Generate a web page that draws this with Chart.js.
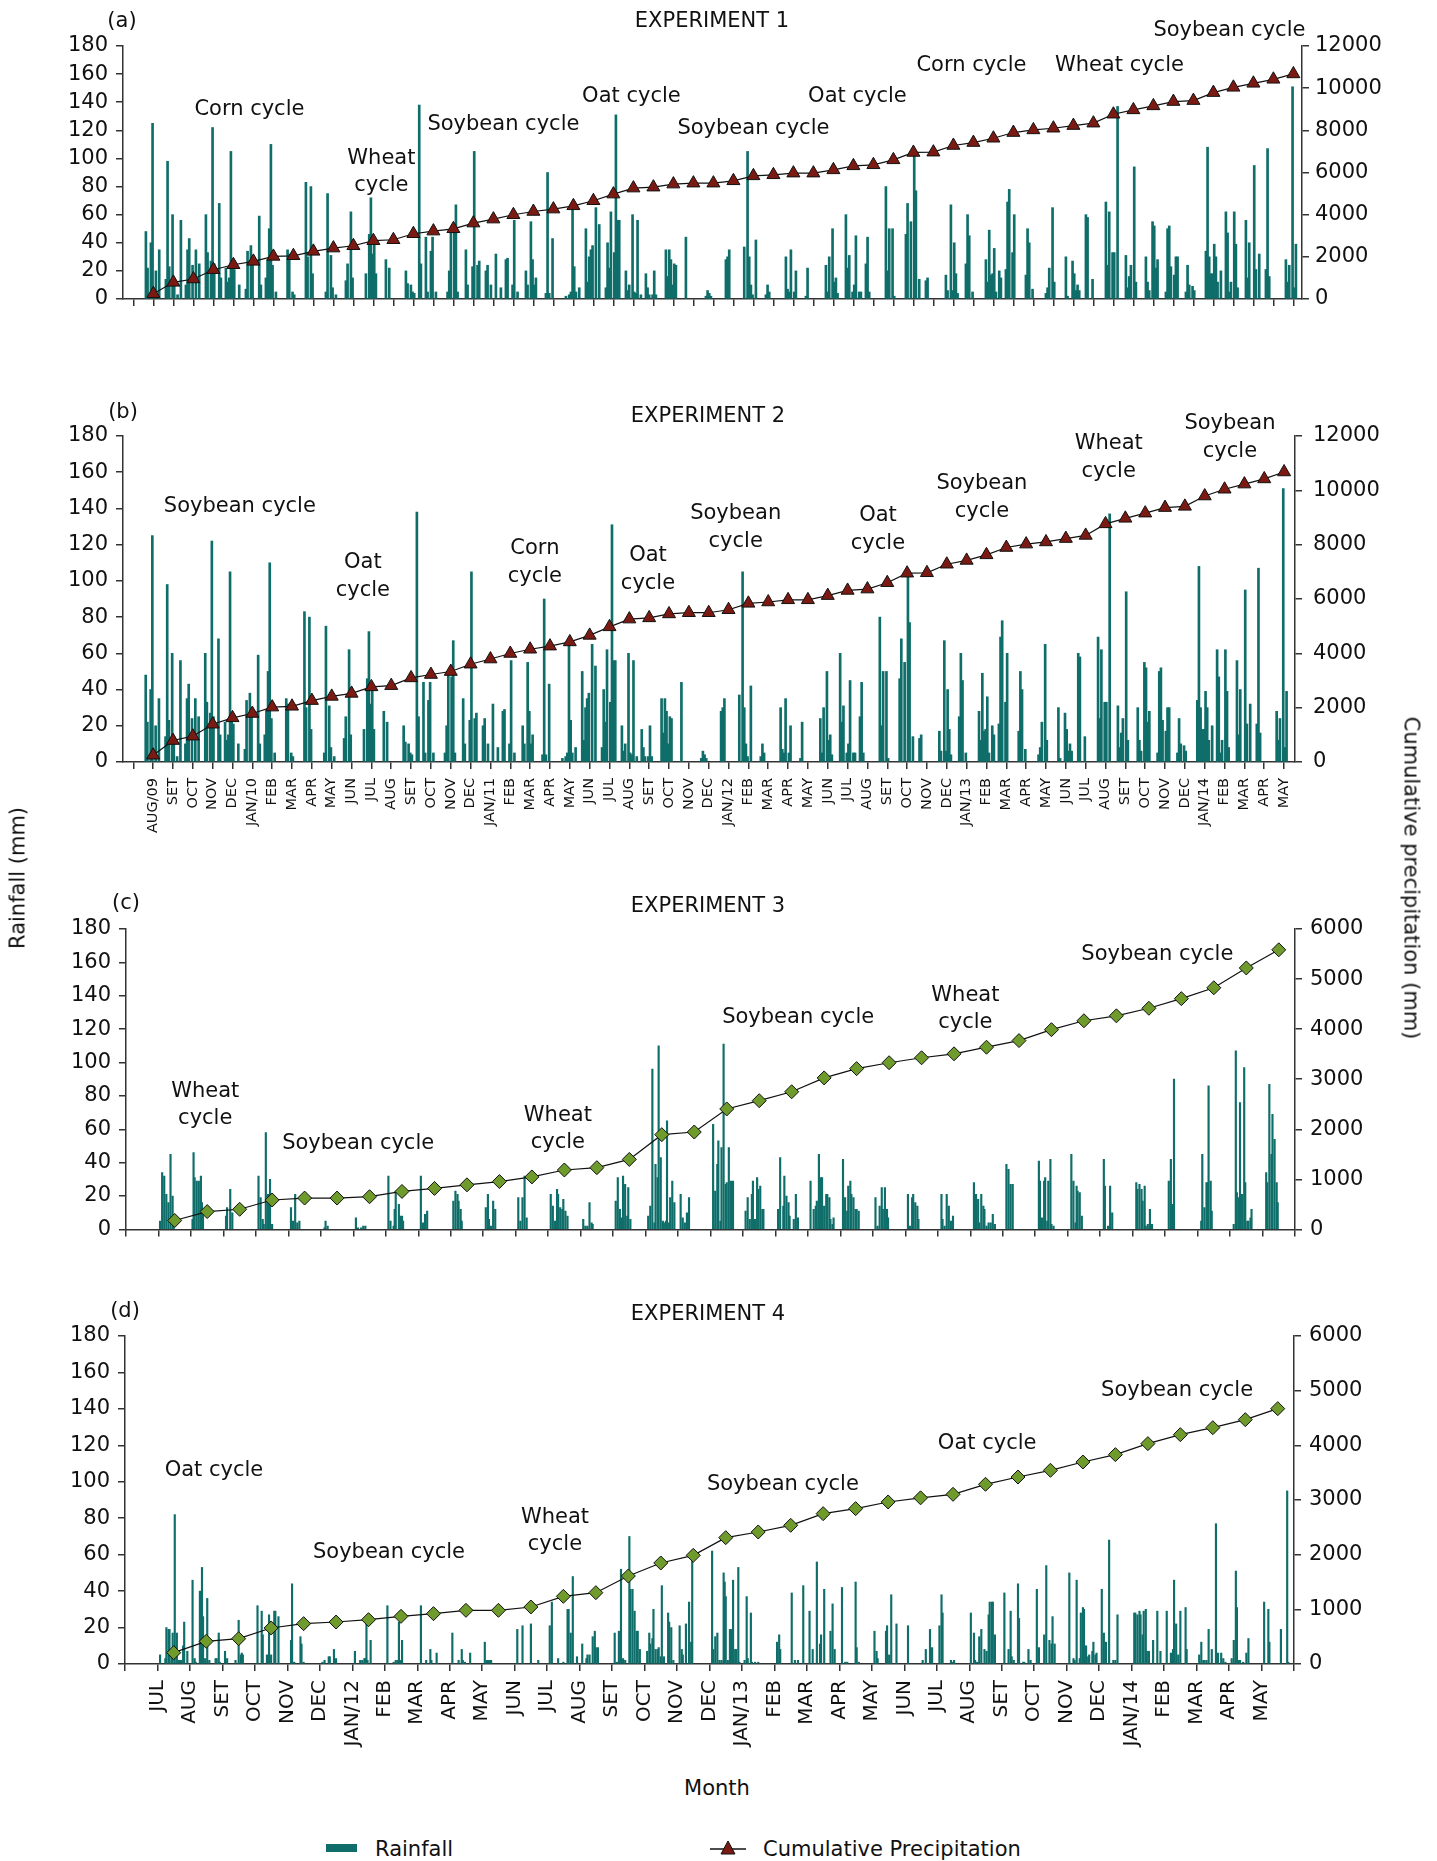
<!DOCTYPE html>
<html>
<head>
<meta charset="utf-8">
<script src="https://cdn.jsdelivr.net/npm/chart.js@4.4.0/dist/chart.umd.min.js"></script>
<style>
  body { margin: 0; background: #fff; }
  #page { position: relative; width: 1437px; height: 1861px; background: #fff; font-family: "DejaVu Sans", sans-serif; color: #111; overflow: hidden; }
  canvas { position: absolute; left: 0; }
  .t { position: absolute; white-space: nowrap; font-size: 21px; line-height: 1; transform: translate(-50%, -50%); }
</style>
</head>
<body>
<div id="page">
  <canvas id="chA" width="1437" height="320" style="top:0px"></canvas>
  <canvas id="chB" width="1437" height="460" style="top:400px"></canvas>
  <canvas id="chC" width="1437" height="370" style="top:880px"></canvas>
  <canvas id="chD" width="1437" height="480" style="top:1290px"></canvas>

  <div class="t" style="left:122px; top:20px">(a)</div>
  <div class="t" style="left:712px; top:20px">EXPERIMENT 1</div>
  <div class="t" style="left:123px; top:411px">(b)</div>
  <div class="t" style="left:708px; top:415px">EXPERIMENT 2</div>
  <div class="t" style="left:126px; top:902px">(c)</div>
  <div class="t" style="left:708px; top:905px">EXPERIMENT 3</div>
  <div class="t" style="left:125px; top:1310px">(d)</div>
  <div class="t" style="left:708px; top:1313px">EXPERIMENT 4</div>

  <div class="t" style="left:18px; top:878px; transform:translate(-50%,-50%) rotate(-90deg)">Rainfall (mm)</div>
  <div class="t" style="left:1411px; top:878px; transform:translate(-50%,-50%) rotate(90deg)">Cumulative precipitation (mm)</div>
  <div class="t" style="left:717px; top:1788px">Month</div>

  <div style="position:absolute; left:326px; top:1844px; width:31px; height:8px; background:#0f6e69"></div>
  <div class="t" style="left:375px; top:1849px; transform:translate(0,-50%)">Rainfall</div>
  <svg style="position:absolute; left:710px; top:1838px" width="36" height="20">
    <line x1="0" y1="11" x2="36" y2="11" stroke="#111" stroke-width="1.5"/>
    <polygon points="18,3 25,16 11,16" fill="#7b1a12" stroke="#111" stroke-width="1"/>
  </svg>
  <div class="t" style="left:763px; top:1849px; transform:translate(0,-50%)">Cumulative Precipitation</div>
</div>

<script>
// ---- data: experiments 1 and 2 (Aug/2009 - May/2014) ----
const monthsAB = ['AUG/09','SET','OCT','NOV','DEC','JAN/10','FEB','MAR','APR','MAY','JUN','JUL','AUG','SET','OCT','NOV','DEC',
  'JAN/11','FEB','MAR','APR','MAY','JUN','JUL','AUG','SET','OCT','NOV','DEC',
  'JAN/12','FEB','MAR','APR','MAY','JUN','JUL','AUG','SET','OCT','NOV','DEC',
  'JAN/13','FEB','MAR','APR','MAY','JUN','JUL','AUG','SET','OCT','NOV','DEC',
  'JAN/14','FEB','MAR','APR','MAY'];

// daily rainfall (mm), 12 slots per month
const rainAB = [
  [0,48,22,0,40,125,0,20,0,35,0,0],
  [0,14,98,23,0,60,14,0,3,0,56,0],
  [0,10,35,43,0,24,0,35,0,25,0,0],
  [0,60,33,0,27,122,25,0,0,68,15,0],
  [0,22,12,15,105,26,21,0,0,10,0,0],
  [0,7,34,0,38,27,0,0,0,59,10,0],
  [0,15,28,50,110,24,0,5,0,0,0,0],
  [0,0,35,32,0,5,3,0,0,0,0,0],
  [0,83,30,0,80,18,0,0,0,0,0,0],
  [0,5,75,0,31,8,0,3,0,0,0,0],
  [0,13,25,0,62,15,0,0,0,0,0,0],
  [0,18,0,46,72,32,40,18,0,0,0,0],
  [0,28,0,22,0,0,0,0,0,0,0,0],
  [0,20,11,0,10,5,4,0,0,138,25,0],
  [0,44,5,0,34,44,0,5,0,0,0,0],
  [0,0,5,20,48,0,47,67,5,0,0,0],
  [0,35,10,0,0,23,105,0,24,27,0,0],
  [0,20,24,0,10,0,0,32,0,0,8,0],
  [0,28,29,0,0,10,56,0,5,0,0,0],
  [0,20,10,0,55,28,10,15,0,0,0,0],
  [0,4,90,4,0,43,0,0,0,0,0,0],
  [0,2,0,3,5,65,23,5,0,8,0,0],
  [0,50,12,30,35,38,0,65,0,53,0,0],
  [0,8,40,22,62,0,33,131,56,56,0,0],
  [0,20,6,10,0,60,5,4,56,0,3,0],
  [0,18,8,3,0,3,20,3,0,0,0,0],
  [0,35,16,35,28,10,25,24,0,0,0,0],
  [0,44,0,0,0,0,0,0,0,0,0,0],
  [0,2,6,4,2,0,0,0,0,0,0,0],
  [0,28,30,35,0,0,0,0,0,0,0,0],
  [37,0,105,30,10,3,0,42,0,0,0,0],
  [0,3,10,5,0,0,0,0,0,0,0,0],
  [0,30,7,5,35,0,5,20,0,0,0,0],
  [0,2,22,0,0,0,0,0,0,0,0,0],
  [0,24,5,30,0,50,12,15,4,0,0,0],
  [0,60,22,31,0,5,10,45,0,5,5,0],
  [0,25,44,5,0,0,0,0,0,0,0,0],
  [0,80,20,50,0,50,2,0,0,0,0,0],
  [0,46,68,0,55,0,106,77,0,14,0,0],
  [0,13,15,0,0,0,0,0,0,0,0,0],
  [0,17,6,0,67,6,40,18,4,0,0,0],
  [0,25,60,45,0,5,0,0,0,0,0,0],
  [0,28,12,49,17,18,36,5,0,20,15,0],
  [0,21,69,78,0,33,60,0,0,0,0,0],
  [0,17,50,40,0,7,0,0,0,0,0,0],
  [0,4,8,22,0,65,12,0,0,0,0,0],
  [0,30,2,0,0,27,18,6,10,6,0,0],
  [0,60,58,0,0,14,0,0,0,0,0,0],
  [0,69,24,62,0,33,33,0,137,0,0,0],
  [0,31,8,16,24,0,94,12,0,0,0,0],
  [0,30,12,6,0,55,52,22,28,0,0,0],
  [0,5,50,52,23,0,17,30,30,0,0,0],
  [0,5,24,10,0,9,6,0,0,0,0,0],
  [0,34,108,30,18,18,39,30,12,0,20,0],
  [0,62,47,5,12,0,62,39,8,0,0,0],
  [0,56,15,40,0,0,95,21,0,32,0,0],
  [0,21,107,16,0,0,0,0,0,0,0,0],
  [0,28,12,24,0,151,8,39,0,0,0,0]
];

const cumAB = [250,790,950,1390,1625,1785,2020,2050,2260,2415,2525,2765,2810,3095,3220,3330,3600,3790,3995,4150,
  4265,4420,4660,4975,5260,5305,5450,5495,5495,5605,5840,5890,5970,5970,6125,6315,6365,6600,6950,6965,
  7280,7420,7625,7895,8020,8100,8225,8340,8765,8970,9160,9365,9410,9790,10040,10230,10420,10675];

// ---- data: experiments 3 and 4 (Jul/2011 - May/2014) ----
const monthsCD = ['JUL','AUG','SET','OCT','NOV','DEC','JAN/12','FEB','MAR','APR','MAY','JUN',
  'JUL','AUG','SET','OCT','NOV','DEC','JAN/13','FEB','MAR','APR','MAY','JUN',
  'JUL','AUG','SET','OCT','NOV','DEC','JAN/14','FEB','MAR','APR','MAY'];

// daily rainfall (mm), day 1.. of each month
const rainC = [
  [0,5,0,34,0,32,0,21,0,16,0,45,0,20,4],
  [0,6,46,31,0,29,0,29,0,32,16,12],
  [0,0,8,13,0,0,24,0,10],
  [0,0,32,0,19,0,6,3,0,58,0,21,0,30,0,3],
  [0,0,13,0,5,0,21,0,4,0,5],
  [0,0,0,1,5,0,2],
  [0,0,7,0,1,0,0,1,0,2,0,2],
  [0,0,32,0,5,0,0,2,12,23,0,0,15,8,0,8,5],
  [0,0,32,0,4,0,9,0,11],
  [0,0,17,0,23,0,21,17,0,12,5],
  [0,0,13,0,21,6,0,2,0,17,0,12],
  [0,0,19,0,5,0,19,0,32,0,7],
  [0,0,21,0,14,0,5,0,24,21,0,13,0,12,18,0,11,0,8],
  [0,0,6,0,2,0,2,0,16,0,4,3],
  [0,0,17,0,31,0,12,7,0,32,0,27,0,8,25,0,6],
  [0,0,8,0,14,0,96,0,4,39,0,31,110,0,43,0,5,4,0,5,65,0,4,19,0,29,0,16],
  [0,0,21,0,7,0,4,0,10,0,19],
  [0,0,63,0,23,0,39,53,0,5,49,0,111,0,27,28,0,49,0,29,0,29],
  [0,0,11,0,19,0,6,0,21,29,0,6,0,31,24,0,26,0,12,12],
  [0,0,12,0,43,0,0,14,32,0,20,0,16,8,0,0,0,6,0,21,0,7],
  [0,0,29,0,0,12,0,14,17,0,45,0,31,31,0,14,0,21,21,0,19,6,0,3,7],
  [0,0,42,0,19,0,11,26,0,29,21,0,19,0,12,12,0,11],
  [0,0,19,0,2,0,14,0,25,12,0,25,0,12,7],
  [0,0,21,0,2,0,19,21,0,16,0,14,6],
  [0,0,0,21,6,0,2,0,21,0,14,0,5,0,8],
  [0,0,0,28,0,21,0,18,4,0,21,0,14,12,0,2,0,4,0,4,0,9,0,3],
  [0,0,0,39,0,36,0,27,0,27],
  [0,0,0,41,29,0,7,0,29,31,0,5,29,0,42,3,0,2],
  [0,0,0,45,0,29,0,4,26,23,0,22,0,8],
  [0,0,0,42,26,0,0,2,0,26,0,10],
  [0,0,0,28,24,0,27,0,24,17,0,26,2,0,3,0,12,0,3],
  [0,0,0,29,0,42,15,0,90],
  [0,0,0,5,45,0,13,0,28,28,86,0,29,11],
  [0,0,0,3,0,107,22,0,19,76,0,21,0,97,28,0,5,5,0,7,12],
  [0,0,0,34,28,0,87,0,45,69,0,54,0,28,16]
];
const cumC = [178,356,402,587,626,626,653,758,818,890,956,1048,1187,1233,1398,1892,1945,2406,2571,2749,
  3026,3211,3329,3428,3507,3639,3771,3989,4167,4266,4417,4609,4826,5222,5584];

const rainD = [
  [0,0,5,0,0,0,0,3,20,0,19,19,0,6,17,0,82,0,17,0,2,0,2,0,10,23,0,0,7],
  [0,0,46,0,3,1,0,0,0,40,0,53,26,0,3,0,36,0,2,0,0,0,0,0,3,3,0,17,1],
  [0,0,7,0,3,0,0,0,0,0,0,0,2,0,0,24,0,5,6,5],
  [0,0,32,0,0,0,29,16,0,0,0,5,0,27,0,5,0,0,29,29,0,0,26],
  [0,0,0,13,44,0,1,0,0,0,0,0,15,11,0,1],
  [0,0,1,0,2,0,0,0,4,4,0,0,0,8,0,3],
  [0,0,7,0,0,0,0,2,0,2,0,3,3,22,2,0,0,13],
  [0,0,32,0,0,0,0,0,1,0,2,0,2,23,0,2,13],
  [0,0,0,32,0,0,0,0,2,0,0,0,8,2,0,0,0,0,6],
  [0,0,17,0,0,0,0,0,2,0,0,8,2,0,1,0,0,0,0,6],
  [0,0,12,0,2,0,2,0,2],
  [0,0,19,0,0,0,0,21,0,0,0,0,0,0,0,22,0,0,0,0,0,0,2],
  [0,0,21,0,34,0,0,0,0,0,3,0,0,0,0,1,0,0,0,30,30,0,17,0,48,0,0,0,4],
  [0,0,11,0,0,0,3,5,0,5,0,0,15,0,18,9,0,9],
  [0,0,17,0,1,0,18,0,52,0,3,0,2,0,0,0,70,41,0,41,0,29,0,18,18,0,8],
  [0,0,7,0,17,11,0,14,30,0,8,0,8,9,0,4,43,0,4,0,0,0,28,23,0,20,0,2],
  [0,0,21,0,8,5,0,0,22,0,0,34,0,12,60],
  [0,0,62,8,0,15,0,17,0,2,0,2,0,50,45,37,0,2,0,19,0,19,46,0,8,8,0,53,1],
  [0,0,2,0,37,3,0,0,28,1,0,0,1,0,0,1],
  [0,0,12,0,16,8,0,0,0,0,0,0,0,0,0,0,39,0,0,2,0,0,2,0,0,0,0,43],
  [0,0,29,0,0,8,0,0,0,56,0,0,11,16,0,0,41,0,0,0,0,0,18,0,33,0,8],
  [0,0,42,0,0,1,0,1,0,0,0,0,0,0,0,45,9,0,1],
  [0,0,18,0,7,3,0,0,0,0,0,0,0,18,21,0,5,0,38,0,0,0,0,22],
  [0,0,0,21,0,0,0,0,0,0,0,0,0,0,0,0,0,2,0,0,8,0,0,0,19,0,9],
  [0,0,21,0,38,28,0,0,0,0,0,0,0,2,0,1,2],
  [0,28,0,0,17,2,0,1,0,15,0,19,0,0,8,0,7,0,27,34,0,34,34,0,16],
  [0,0,39,0,0,0,8,0,29,4,0,2,0,0,0,44,25,0,0,0,1,1,0,0,0,8,0,2],
  [0,0,41,0,9,0,0,0,0,16,0,54,0,0,13,0,11,26,0,11],
  [0,0,50,0,0,0,3,2,0,46,0,0,3,28,0,31,30,0,10,0,4,5,0,0,7,12,0,5,6],
  [0,0,41,0,17,0,12,0,0,68,0,0,0,2,0,2,0,27],
  [0,0,28,28,0,27,0,29,27,0,16,29,0,30,7,0,7,0,0,0,13,0,0,0,29,0,0,7],
  [0,0,29,0,0,0,6,0,8,46,0,22,0,5,0,29,0,0,0,0,31,8],
  [0,0,5,0,12,0,2,2,0,2,0,19,0,0,8,0,0,0,77,0,6,0,0,6,0,3,0,1],
  [0,0,3,0,13,0,51,31,0,2,2,0,0,1,0,0,6,0,14],
  [0,0,34,0,0,0,30,12,0,0,0,0,0,0,0,0,0,0,19,0,0,0,0,0,95,1]
];
const cumD = [207,415,463,659,738,768,811,872,921,982,982,1043,1238,1305,1610,1848,1988,2311,2415,2537,
  2750,2842,2964,3040,3104,3287,3421,3543,3695,3830,4031,4195,4323,4470,4671];

// crop cycle labels (x in month units, y in mm)
const cyclesA = [
  { text: 'Corn cycle', x: 4.8, y: 135 },
  { text: 'Wheat\ncycle', x: 11.4, y: 100 },
  { text: 'Soybean cycle', x: 17.5, y: 124 },
  { text: 'Oat cycle', x: 23.9, y: 144 },
  { text: 'Soybean cycle', x: 30.0, y: 121 },
  { text: 'Oat cycle', x: 35.2, y: 144 },
  { text: 'Corn cycle', x: 40.9, y: 166 },
  { text: 'Wheat cycle', x: 48.3, y: 166 },
  { text: 'Soybean cycle', x: 53.8, y: 191 }
];
const cyclesB = [
  { text: 'Soybean cycle', x: 4.37, y: 141 },
  { text: 'Oat\ncycle', x: 10.57, y: 110 },
  { text: 'Corn\ncycle', x: 19.24, y: 118 },
  { text: 'Oat\ncycle', x: 24.94, y: 114 },
  { text: 'Soybean\ncycle', x: 29.36, y: 137 },
  { text: 'Oat\ncycle', x: 36.53, y: 136 },
  { text: 'Soybean\ncycle', x: 41.77, y: 154 },
  { text: 'Wheat\ncycle', x: 48.16, y: 176 },
  { text: 'Soybean\ncycle', x: 54.27, y: 187 }
];
const cyclesC = [
  { text: 'Wheat\ncycle', x: 2.44, y: 82.7 },
  { text: 'Soybean cycle', x: 7.15, y: 51.7 },
  { text: 'Wheat\ncycle', x: 13.3, y: 68.3 },
  { text: 'Soybean cycle', x: 20.7, y: 127 },
  { text: 'Wheat\ncycle', x: 25.85, y: 140 },
  { text: 'Soybean cycle', x: 31.76, y: 164.5 }
];
const cyclesD = [
  { text: 'Oat cycle', x: 2.74, y: 106.3 },
  { text: 'Soybean cycle', x: 8.13, y: 61.3 },
  { text: 'Wheat\ncycle', x: 13.24, y: 80.5 },
  { text: 'Soybean cycle', x: 20.26, y: 98.6 },
  { text: 'Oat cycle', x: 26.55, y: 121 },
  { text: 'Soybean cycle', x: 32.4, y: 150 }
];

Chart.defaults.font.family = "'DejaVu Sans', sans-serif";
Chart.defaults.color = '#111';

const cycleLabels = {
  id: 'cycleLabels',
  afterDraw(chart, args, opts) {
    const { ctx, scales } = chart;
    ctx.save();
    ctx.font = "21px 'DejaVu Sans'";
    ctx.fillStyle = '#111';
    ctx.textAlign = 'center';
    ctx.textBaseline = 'middle';
    opts.items.forEach(it => {
      const px = scales.x.getPixelForValue(it.x);
      const py = scales.y.getPixelForValue(it.y);
      it.text.split('\n').forEach((line, k) => ctx.fillText(line, px, py + k * opts.gap));
    });
    ctx.restore();
  }
};

const axisLine = { display: true, color: '#333', width: 1.5 };
const tickMarks = { display: true, drawOnChartArea: false, drawTicks: true, tickLength: 7, color: '#333', lineWidth: 1.5, offset: false };

function makePanel(id, p) {
  const canvas = document.getElementById(id);
  const W = canvas.width, H = canvas.height;
  const bars = [];
  p.rain.forEach((days, m) => days.forEach((v, i) => {
    if (v > 0) bars.push({ x: p.dayX(m, i), y: v });
  }));
  const cum = p.cum.map((v, m) => ({ x: p.pointX(m), y: v }));

  return new Chart(canvas, {
    type: 'bar',
    data: {
      datasets: [
        { type: 'line', data: cum, yAxisID: 'y2', borderColor: '#111', borderWidth: 1.2, tension: 0,
          pointStyle: p.marker, pointRadius: p.markerSize, pointBackgroundColor: p.markerColor,
          pointBorderColor: '#111', pointBorderWidth: 1 },
        { type: 'bar', data: bars, yAxisID: 'y', backgroundColor: '#0f6e69', borderWidth: 0,
          barThickness: p.barWidth }
      ]
    },
    options: {
      responsive: false,
      animation: false,
      devicePixelRatio: 1,
      layout: { padding: { top: p.area.top, left: 0, right: 0, bottom: 0 } },
      plugins: {
        legend: { display: false },
        tooltip: { enabled: false },
        cycleLabels: { items: p.cycles, gap: p.gap }
      },
      scales: {
        x: {
          type: 'linear', min: p.xMin, max: p.xMax, offset: false,
          border: axisLine, grid: tickMarks,
          afterBuildTicks: s => { s.ticks = p.tickValues.map(v => ({ value: v })); },
          ticks: { autoSkip: false, minRotation: 90, maxRotation: 90, padding: 9,
                   font: { size: p.xFont }, callback: v => p.tickLabel(v) },
          afterFit: s => { s.height = H - p.area.bottom; }
        },
        y: {
          position: 'left', min: 0, max: 180,
          border: axisLine, grid: tickMarks,
          ticks: { stepSize: 20, autoSkip: false, padding: 8, font: { size: 21 } },
          afterFit: s => { s.width = p.area.left; }
        },
        y2: {
          position: 'right', min: 0, max: p.cumMax,
          border: axisLine, grid: tickMarks,
          ticks: { stepSize: p.cumStep, autoSkip: false, padding: p.rightPad, font: { size: 21 }, callback: v => String(v) },
          afterFit: s => { s.width = W - p.area.right; }
        }
      }
    },
    plugins: [cycleLabels]
  });
}

const ticksAB = [-1].concat(monthsAB.map((_, i) => i));
const ticksCD = monthsCD.map((_, i) => i).concat([35, 36]);

const abBase = {
  rain: rainAB, cum: cumAB,
  dayX: (m, i) => m - 0.5 + (i + 0.5) / 12,
  pointX: m => m,
  xMin: -1.52, tickValues: ticksAB,
  marker: 'triangle', markerSize: 7.5, markerColor: '#7b1a12',
  barWidth: 2, cumMax: 12000, cumStep: 2000
};
const cdBase = {
  dayX: (m, i) => m + 1 + (i + 0.5) / 31,
  pointX: m => m + 1.5,
  xMin: 0, xMax: 36, tickValues: ticksCD,
  marker: 'rectRot', markerSize: 7, markerColor: '#6e9b2b',
  barWidth: 1.5, cumMax: 6000, cumStep: 1000, rightPad: 8
};

makePanel('chA', Object.assign({}, abBase, {
  area: { left: 123, right: 1302, top: 46, bottom: 299 }, xMax: 57.43, rightPad: 6,
  cycles: cyclesA, gap: 27, xFont: 14, tickLabel: () => ''
}));
makePanel('chB', Object.assign({}, abBase, {
  area: { left: 123, right: 1295, top: 36, bottom: 362 }, xMax: 57.55, rightPad: 11,
  cycles: cyclesB, gap: 28, xFont: 14.5, tickLabel: v => monthsAB[v] || ''
}));
makePanel('chC', Object.assign({}, cdBase, {
  rain: rainC, cum: cumC,
  area: { left: 126, right: 1295, top: 49, bottom: 352 },
  cycles: cyclesC, gap: 27, xFont: 20, tickLabel: () => ''
}));
makePanel('chD', Object.assign({}, cdBase, {
  rain: rainD, cum: cumD,
  area: { left: 125, right: 1294, top: 46, bottom: 374 },
  cycles: cyclesD, gap: 27, xFont: 20, tickLabel: v => monthsCD[v - 1] || ''
}));
</script>
</body>
</html>
